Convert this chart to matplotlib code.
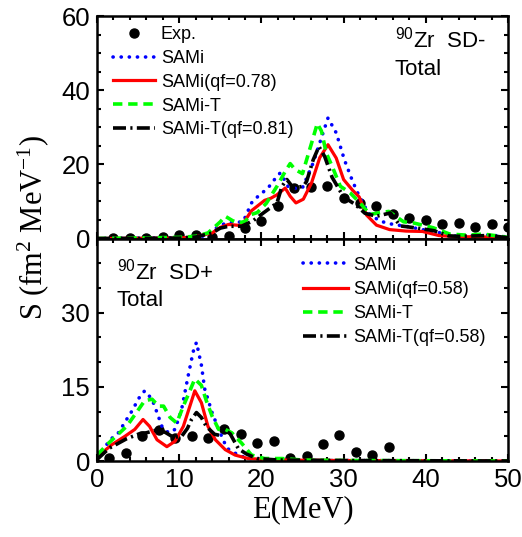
import matplotlib
matplotlib.use("Agg")
import matplotlib.pyplot as plt
from matplotlib.ticker import MultipleLocator

plt.rcParams["font.family"] = ["Liberation Sans", "DejaVu Sans"]
plt.rcParams["mathtext.default"] = "regular"

# ---- SD- (upper panel) ----
exp_minus_e = [2, 4, 6, 8, 10, 12, 14, 16, 18, 20, 22, 24, 26, 28, 30, 32, 34, 36, 38, 40, 42, 44, 46, 48, 50]
exp_minus_s = [0.1, 0.1, 0.2, 0.5, 1.0, 1.0, 0.5, 0.8, 2.8, 4.6, 8.7, 13.5, 14.0, 14.1, 10.8, 9.5, 8.7, 6.7, 5.6, 5.1, 3.8, 4.2, 3.1, 3.8, 3.1]

sami_minus_e = [0, 10, 12, 13, 14, 15, 16, 17, 17.8, 18.8, 19.6, 20.8, 21.9, 22.3, 23.3, 24.0, 25.0, 26.3, 27.5, 28.1, 29.1, 30.1, 31.1, 31.9, 33.0, 34.4, 36, 37.6, 39.6, 41.6, 43.7, 45.7, 47.7, 49.5, 50]
sami_minus_s = [0, 0.2, 0.3, 0.7, 2.0, 3.6, 4.3, 4.3, 4.6, 9.6, 11.4, 13.6, 16.8, 17.7, 13.8, 13.5, 13.7, 20.4, 28.5, 32.5, 28.5, 21.2, 15.4, 11.4, 6.9, 4.7, 3.8, 3.3, 2.4, 1.6, 0.6, 0.6, 1.0, 0.5, 0.3]

samiqf_minus_e = [0, 10, 12, 14, 15, 16, 17, 17.6, 18.8, 20.4, 21.1, 21.9, 22.9, 23.5, 24.2, 25.1, 26.1, 27.1, 28.1, 29.1, 30.0, 31.1, 31.9, 32.8, 34.0, 35.6, 37.6, 39.6, 41.6, 43.7, 47.7, 50]
samiqf_minus_s = [0, 0.1, 0.5, 1.5, 3.0, 3.8, 3.6, 3.5, 7.5, 10.3, 10.8, 11.8, 13.6, 11.4, 9.6, 10.6, 15.0, 21.8, 25.3, 21.7, 15.9, 13.0, 11.2, 6.3, 3.6, 2.4, 2.0, 1.9, 0.8, 0.5, 0.4, 0]

samit_minus_e = [0, 10, 12, 13.5, 15, 15.6, 16.5, 17.2, 18, 18.8, 19.5, 20.6, 21.9, 22.9, 23.5, 24.1, 25, 26.1, 26.8, 27.3, 27.9, 28.6, 29.6, 30.8, 32.0, 33.2, 34.5, 35.5, 37.3, 38.5, 40.9, 42.9, 45, 47, 49, 50]
samit_minus_s = [0, 0.3, 0.6, 1.5, 4.5, 6.0, 4.8, 4.2, 4.6, 6.5, 7.0, 9.5, 14.1, 18.1, 20.2, 18.6, 17.5, 25.7, 31.0, 29.0, 23.0, 19.5, 14.1, 12.3, 9.6, 6.5, 7.0, 7.3, 4.5, 4.2, 2.9, 1.2, 0.9, 1.2, 0.6, 0.3]

samitqf_minus_e = [0, 10, 12, 14, 15, 16, 17.6, 19, 20, 21.9, 22.5, 23.1, 23.9, 25.1, 25.5, 26.3, 27.0, 27.7, 28.6, 30.0, 31.4, 32.6, 34.0, 35.7, 36.9, 39.0, 41.0, 42.8, 44, 47.8, 50]
samitqf_minus_s = [0, 0.1, 0.4, 1.5, 2.8, 3.3, 3.3, 4.8, 6.5, 9.6, 14.1, 15.9, 13.6, 14.1, 15.4, 21.2, 24.8, 22.1, 16.5, 11.2, 9.2, 6.8, 6.0, 6.9, 3.4, 2.8, 2.1, 0.7, 0.6, 0.8, 0.2]

# ---- SD+ (lower panel) ----
exp_plus_e = [1.5, 3.5, 5.5, 7.5, 9.5, 11.5, 13.5, 15.5, 17.5, 19.5, 21.5, 23.5, 25.5, 27.5, 29.5, 31.5, 33.5, 35.5]
exp_plus_s = [0.7, 1.7, 5.0, 6.2, 4.6, 5.1, 4.6, 6.4, 5.5, 3.7, 4.0, 0.7, 1.1, 3.5, 5.2, 1.8, 1.2, 2.9]

sami_plus_e = [0, 1.0, 1.6, 2.6, 3.6, 4.4, 5.0, 5.8, 6.7, 7.3, 7.9, 8.7, 9.5, 10.3, 11.1, 11.7, 12.1, 12.7, 13.1, 14.0, 14.8, 15.8, 17.2, 18.4, 21.5, 25, 30, 40, 50]
sami_plus_s = [0.8, 2.9, 4.3, 5.7, 8.4, 10.5, 12.5, 14.2, 12.5, 9.8, 7.0, 5.7, 6.4, 10.5, 17.3, 22.1, 24.0, 19.4, 14.6, 9.8, 6.4, 2.6, 1.2, 0.5, 0.3, 0.1, 0.1, 0.05, 0]

samiqf_plus_e = [0, 1.8, 3.4, 4.6, 5.6, 6.4, 7.3, 8.5, 9.5, 10.5, 11.3, 11.9, 12.7, 13.5, 14.4, 15.6, 16.8, 18.4, 22, 30, 40, 50]
samiqf_plus_s = [0.8, 3.3, 5.0, 6.4, 8.4, 7.0, 4.3, 2.9, 4.0, 7.0, 11.1, 14.2, 11.8, 7.0, 4.3, 2.3, 1.2, 0.5, 0.2, 0.1, 0.05, 0]

samit_plus_e = [0, 1.4, 3.6, 4.8, 5.8, 6.7, 7.5, 8.1, 8.9, 9.7, 10.5, 11.3, 11.9, 12.7, 13.3, 14.0, 14.8, 15.6, 16.4, 17.6, 18.8, 20.4, 22.5, 25, 30, 40, 50]
samit_plus_s = [1.2, 3.6, 7.0, 9.8, 12.2, 12.5, 11.1, 11.1, 8.8, 7.7, 11.1, 14.2, 16.6, 15.3, 12.2, 9.1, 6.4, 6.4, 5.7, 3.6, 1.2, 0.5, 0.5, 0.2, 0.1, 0.05, 0]

samitqf_plus_e = [0, 1.5, 3.6, 5.3, 6.0, 7.3, 8.3, 9.3, 10.3, 11.0, 11.5, 12.1, 12.7, 13.3, 14.3, 14.9, 15.6, 16.2, 17.2, 18.2, 19.5, 22, 30, 40, 50]
samitqf_plus_s = [0.3, 2.6, 4.5, 5.6, 5.7, 6.3, 5.8, 4.8, 5.0, 6.6, 8.4, 9.8, 8.8, 7.0, 5.4, 5.2, 6.2, 5.5, 2.5, 1.4, 0.5, 0.2, 0.1, 0.05, 0]

BLUE = "#0000FF"
RED = "#FF0000"
GREEN = "#00FF00"
BLACK = "#000000"


def style_axis(ax):
    ax.set_xlim(0, 50)
    ax.xaxis.set_major_locator(MultipleLocator(10))
    ax.xaxis.set_minor_locator(MultipleLocator(2))
    ax.tick_params(which="both", direction="in", top=True, right=True, width=1.5, labelsize=18.5, pad=5)
    ax.tick_params(which="major", length=5)
    ax.tick_params(which="minor", length=3)
    for s in ax.spines.values():
        s.set_linewidth(1.8)


def draw_curves(ax, data, labels):
    (e0, s0), (e1, s1), (e2, s2), (e3, s3), (e4, s4) = data
    h = []
    if e0 is not None:
        h += ax.plot(e0, s0, "o", color=BLACK, ms=6.5, label="Exp.")
    h += ax.plot(e1, s1, color=BLUE, lw=2.6, ls=(0, (0.05, 2.2)), dash_capstyle="round", label=labels[0])
    h += ax.plot(e2, s2, color=RED, lw=2.3, label=labels[1])
    h += ax.plot(e3, s3, color=GREEN, lw=2.6, ls=(0, (2.6, 1.6)), label=labels[2])
    h += ax.plot(e4, s4, color=BLACK, lw=2.6, ls=(0, (3.6, 1.2, 0.6, 1.2)), label=labels[3])
    return h


fig = plt.figure(figsize=(5.22, 5.37), dpi=100)
gs = fig.add_gridspec(2, 1, left=0.1858, right=0.9732, top=0.9702, bottom=0.1415, hspace=0)
ax1 = fig.add_subplot(gs[0])
ax2 = fig.add_subplot(gs[1], sharex=ax1)

draw_curves(ax1, [(exp_minus_e, exp_minus_s), (sami_minus_e, sami_minus_s), (samiqf_minus_e, samiqf_minus_s),
                  (samit_minus_e, samit_minus_s), (samitqf_minus_e, samitqf_minus_s)],
            ["SAMi", "SAMi(qf=0.78)", "SAMi-T", "SAMi-T(qf=0.81)"])
style_axis(ax1)
ax1.set_ylim(0, 60)
ax1.yaxis.set_major_locator(MultipleLocator(20))
ax1.yaxis.set_minor_locator(MultipleLocator(5))
ax1.tick_params(labelbottom=False)
ax1.legend(loc="upper left", bbox_to_anchor=(0.039, 0.955), frameon=False, fontsize=13,
           borderpad=0, borderaxespad=0, handlelength=2.3, handletextpad=0.35, labelspacing=0.38)
ax1.text(0.725, 0.857, "$^{90}$Zr  SD-", transform=ax1.transAxes, fontsize=16, va="baseline")
ax1.text(0.725, 0.735, "Total", transform=ax1.transAxes, fontsize=16, va="baseline")

ax2.plot(exp_plus_e, exp_plus_s, "o", color=BLACK, ms=6.5)
h2 = draw_curves(ax2, [(None, None), (sami_plus_e, sami_plus_s), (samiqf_plus_e, samiqf_plus_s),
                       (samit_plus_e, samit_plus_s), (samitqf_plus_e, samitqf_plus_s)],
                 ["SAMi", "SAMi(qf=0.58)", "SAMi-T", "SAMi-T(qf=0.58)"])
style_axis(ax2)
ax2.set_ylim(0, 45)
ax2.set_yticks([0, 15, 30])
ax2.yaxis.set_minor_locator(MultipleLocator(5))
ax2.legend(handles=h2, loc="upper left", bbox_to_anchor=(0.501, 0.918), frameon=False, fontsize=13,
           borderpad=0, borderaxespad=0, handlelength=2.5, handletextpad=0.3, labelspacing=0.4)
ax2.text(0.048, 0.815, "$^{90}$Zr  SD+", transform=ax2.transAxes, fontsize=16, va="baseline")
ax2.text(0.048, 0.695, "Total", transform=ax2.transAxes, fontsize=16, va="baseline")

ax2.set_xlabel("E(MeV)", family="Liberation Serif", fontsize=22, labelpad=2)
fig.text(0.063, 0.577, "S (fm$^{2}$ MeV$^{-1}$)", family="Liberation Serif", fontsize=22,
         rotation=90, ha="center", va="center")

fig.savefig("out.png", dpi=100)
